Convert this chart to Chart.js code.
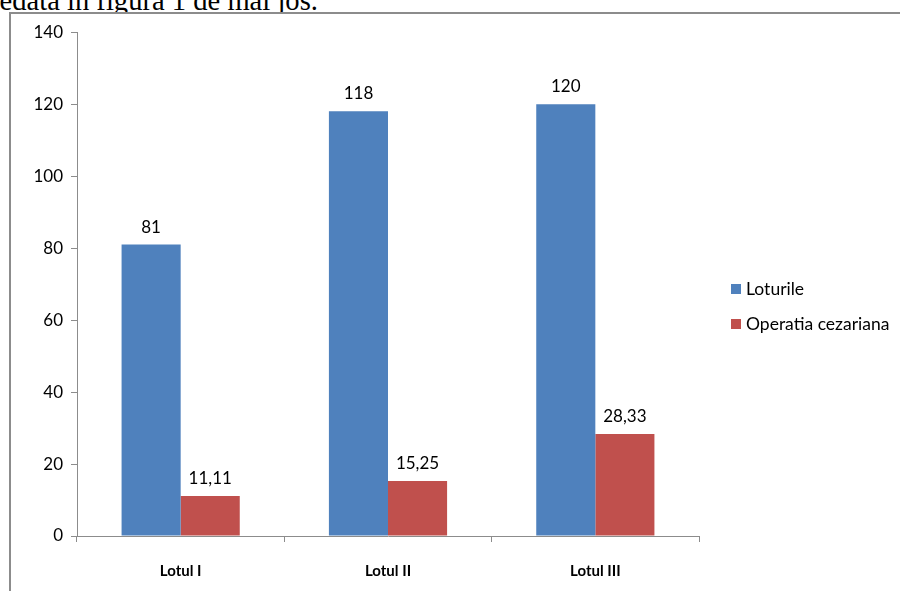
<!DOCTYPE html>
<html>
<head>
<meta charset="utf-8">
<script src="https://cdn.jsdelivr.net/npm/chart.js@4"></script>
<style>
  html, body { margin: 0; padding: 0; background: #fff; overflow: hidden; }
  body { width: 900px; height: 591px; position: relative; }
  #caption {
    position: absolute; left: -10px; top: -15px;
    font-family: "Liberation Serif", "DejaVu Serif", serif;
    font-size: 28.6px; color: #000; white-space: nowrap;
  }
  #box {
    position: absolute; left: 9px; top: 12px;
    width: 900px; height: 590px;
    border: 2px solid #8c8c8c; background: #fff;
  }
  #wrap { position: absolute; left: 0; top: 0; width: 889px; height: 577px; }
  #legend {
    position: absolute; left: 720px; top: 257px;
    font-family: Lato, "Open Sans", sans-serif; font-size: 17.5px; color: #000;
  }
  #legend div { height: 35px; display: flex; align-items: center; }
  #legend span.sw { display: inline-block; width: 10px; height: 10px; margin-right: 5px; }
</style>
</head>
<body>
<div id="caption">redată în figura 1 de mai jos.</div>
<div id="box">
  <div id="wrap"><canvas id="chart" width="889" height="577"></canvas></div>
  <div id="legend"></div>
</div>
<script>
// categories and values
const categories = ['Lotul I', 'Lotul II', 'Lotul III'];
const loturile = [81, 118, 120];
const cezariana = [11.11, 15.25, 28.33];
const seriesNames = ['Loturile', 'Operatia cezariana'];
const seriesColors = ['#4F81BD', '#C0504D'];
const yTicks = [0, 20, 40, 60, 80, 100, 120, 140];

const fmt = v => Number.isInteger(v) ? String(v) : v.toFixed(2).replace('.', ',');

// value labels above every bar
const valueLabels = {
    id: 'valueLabels',
    afterDatasetsDraw(chart) {
        const ctx = chart.ctx;
        ctx.save();
        ctx.font = '17px Lato, "Open Sans", sans-serif';
        ctx.fillStyle = '#000';
        ctx.textAlign = 'center';
        ctx.textBaseline = 'bottom';
        chart.data.datasets.forEach((ds, i) => {
            chart.getDatasetMeta(i).data.forEach((bar, j) => {
                ctx.fillText(fmt(ds.data[j]), bar.x, bar.y - 9);
            });
        });
        ctx.restore();
    }
};

const axisColor = '#8c8c8c';

new Chart(document.getElementById('chart'), {
    type: 'bar',
    data: {
        labels: categories,
        datasets: [
            { label: seriesNames[0], data: loturile, backgroundColor: seriesColors[0] },
            { label: seriesNames[1], data: cezariana, backgroundColor: seriesColors[1] }
        ]
    },
    options: {
        responsive: false,
        animation: false,
        layout: { padding: { left: 0, right: 201, top: 15, bottom: 0 } },
        datasets: {
            bar: { categoryPercentage: 0.57, barPercentage: 1.0 }
        },
        plugins: {
            legend: { display: false },
            tooltip: { enabled: false }
        },
        scales: {
            x: {
                afterFit: axis => { axis.height = 55; },
                grid: { drawOnChartArea: false, drawTicks: true, tickLength: 6, color: axisColor, offset: true },
                border: { color: axisColor, width: 1 },
                ticks: {
                    color: '#000', padding: 20,
                    font: { family: 'Lato, "Open Sans", sans-serif', size: 15, weight: 'bold' }
                }
            },
            y: {
                min: 0, max: 140,
                afterBuildTicks: axis => { axis.ticks = yTicks.map(v => ({ value: v })); },
                afterFit: axis => { axis.width = 66; },
                grid: { drawOnChartArea: false, drawTicks: true, tickLength: 6, color: axisColor },
                border: { color: axisColor, width: 1 },
                ticks: {
                    color: '#000', padding: 8,
                    font: { family: 'Lato, "Open Sans", sans-serif', size: 17 }
                }
            }
        }
    },
    plugins: [valueLabels]
});

// legend built from the series arrays
const legend = document.getElementById('legend');
seriesNames.forEach((name, i) => {
    const row = document.createElement('div');
    const sw = document.createElement('span');
    sw.className = 'sw';
    sw.style.background = seriesColors[i];
    row.appendChild(sw);
    row.appendChild(document.createTextNode(name));
    legend.appendChild(row);
});
</script>
</body>
</html>
